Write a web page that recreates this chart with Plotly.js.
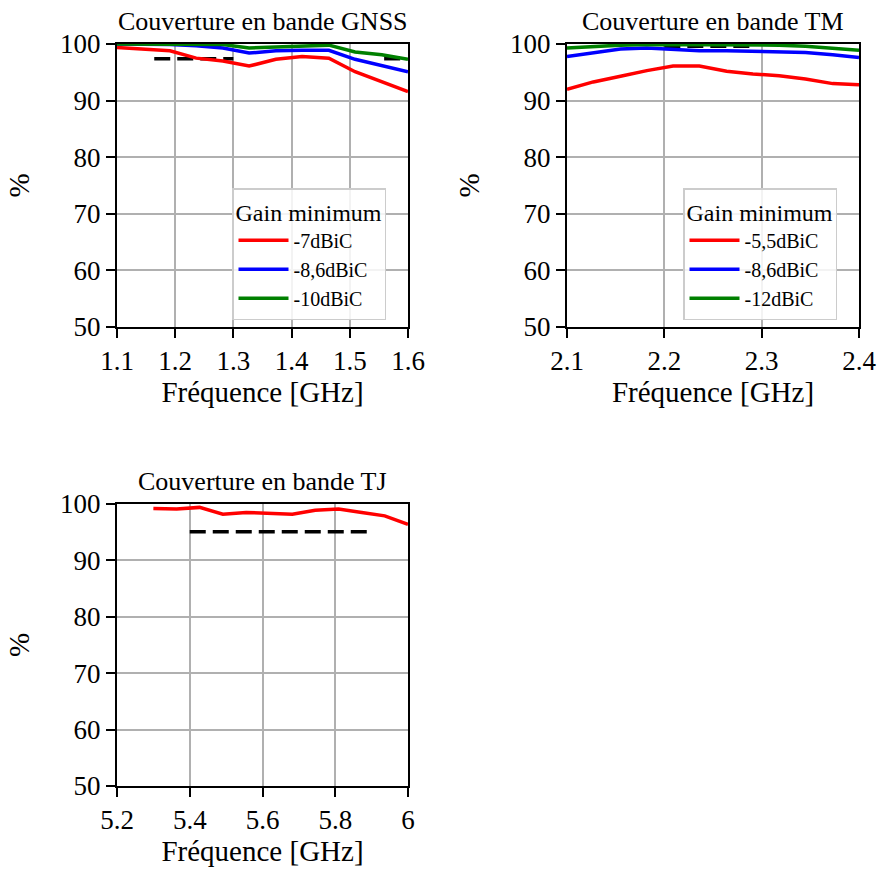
<!DOCTYPE html>
<html>
<head>
<meta charset="utf-8">
<script src="https://cdn.plot.ly/plotly-3.0.1.min.js"></script>
<style>html,body{margin:0;padding:0;background:#fff;}#chart{width:879px;height:869px;}</style>
</head>
<body>
<div id="chart"></div>
<script>
// ---- Data ----
const gnssFreq = [1.1, 1.145, 1.191, 1.236, 1.282, 1.327, 1.373, 1.418, 1.464, 1.509, 1.555, 1.6];
const gnssRed = [99.4, 99.1, 98.8, 97.5, 97.0, 96.1, 97.3, 97.8, 97.5, 95.1, 93.4, 91.6];
const gnssBlue = [100, 100, 99.9, 99.7, 99.3, 98.4, 98.8, 98.9, 98.9, 97.3, 96.2, 95.1];
const gnssGreen = [100, 100, 100, 99.9, 99.9, 99.3, 99.5, 99.6, 99.8, 98.6, 98.1, 97.3];
const gnssLimitX = [1.164, 1.300, null, 1.559, 1.591];
const gnssLimitY = [97.4, 97.4, null, 97.4, 97.4];
const gnssNames = ["-7dBiC", "-8,6dBiC", "-10dBiC"];

const tmFreq = [2.1, 2.127, 2.155, 2.182, 2.209, 2.236, 2.264, 2.291, 2.318, 2.345, 2.373, 2.4];
const tmRed = [92.0, 93.3, 94.3, 95.3, 96.1, 96.1, 95.2, 94.7, 94.4, 93.8, 93.0, 92.8];
const tmBlue = [97.8, 98.5, 99.1, 99.3, 99.1, 98.8, 98.8, 98.7, 98.7, 98.5, 98.1, 97.6];
const tmGreen = [99.3, 99.6, 99.8, 99.9, 99.9, 99.9, 99.9, 99.9, 99.8, 99.6, 99.3, 98.9];
const tmLimitX = [2.2, 2.29];
const tmLimitY = [99.6, 99.6];
const tmNames = ["-5,5dBiC", "-8,6dBiC", "-12dBiC"];

const tjFreq = [5.3, 5.364, 5.427, 5.491, 5.555, 5.618, 5.682, 5.745, 5.809, 5.873, 5.936, 6.0];
const tjRed = [99.2, 99.1, 99.4, 98.2, 98.5, 98.3, 98.2, 98.9, 99.1, 98.5, 97.9, 96.4];
const tjLimitX = [5.4, 5.9];
const tjLimitY = [95.1, 95.1];

const xTicks1 = [1.1, 1.2, 1.3, 1.4, 1.5, 1.6];
const xTickText1 = ["1.1", "1.2", "1.3", "1.4", "1.5", "1.6"];
const xTicks2 = [2.1, 2.2, 2.3, 2.4];
const xTickText2 = ["2.1", "2.2", "2.3", "2.4"];
const xTicks3 = [5.2, 5.4, 5.6, 5.8, 6.0];
const xTickText3 = ["5.2", "5.4", "5.6", "5.8", "6"];
const yTicks = [50, 60, 70, 80, 90, 100];
const yTickText = ["50", "60", "70", "80", "90", "100"];

const titles = ["Couverture en bande GNSS", "Couverture en bande TM", "Couverture en bande TJ"];
const colors = ["#ff0000", "#0000ff", "#008000"];

// ---- Traces ----
const FONT = "Liberation Serif";
const traces = [];
function addSeries(x, ys, names, xa, ya, leg) {
  ys.forEach((y, i) => {
    traces.push({x: x, y: y, type: "scatter", mode: "lines", name: names ? names[i] : "",
      line: {color: colors[i], width: 3.5}, xaxis: xa, yaxis: ya,
      showlegend: !!names, legend: leg});
  });
}
function addLimit(x, y, xa, ya) {
  traces.push({x: x, y: y, type: "scatter", mode: "lines", showlegend: false,
    connectgaps: false, line: {color: "#000", width: 3.5, dash: "16px,7px"}, xaxis: xa, yaxis: ya});
}
addLimit(gnssLimitX, gnssLimitY, "x", "y");
addSeries(gnssFreq, [gnssRed, gnssBlue, gnssGreen], gnssNames, "x", "y", "legend");
addLimit(tmLimitX, tmLimitY, "x2", "y2");
addSeries(tmFreq, [tmRed, tmBlue, tmGreen], tmNames, "x2", "y2", "legend2");
addLimit(tjLimitX, tjLimitY, "x3", "y3");
addSeries(tjFreq, [tjRed], null, "x3", "y3", "legend");

// ---- Layout ----
const W = 879, H = 869;
function px2x(p) { return p / W; }
function px2y(p) { return 1 - p / H; }

function xaxis(dom, ticks, text, anchor, range) {
  return {domain: dom, anchor: anchor, range: range, tickmode: "array", tickvals: ticks, ticktext: text,
    showgrid: true, gridcolor: "#b0b0b0", gridwidth: 2, showline: true, linecolor: "#000", linewidth: 2,
    mirror: true, ticks: "outside", ticklen: 9, tickwidth: 2, tickcolor: "#000", zeroline: false,
    tickfont: {family: FONT, size: 27, color: "#000"},
    title: {text: "Fréquence [GHz]", font: {family: FONT, size: 29, color: "#000"}, standoff: 5},
    automargin: false};
}
function yaxis(dom, anchor) {
  return {domain: dom, anchor: anchor, range: [50, 100], tickmode: "array", tickvals: yTicks, ticktext: yTickText,
    showgrid: true, gridcolor: "#b0b0b0", gridwidth: 2, showline: true, linecolor: "#000", linewidth: 2, mirror: true,
    ticks: "outside", ticklen: 9, tickwidth: 2, tickcolor: "#000", zeroline: false,
    tickfont: {family: FONT, size: 27, color: "#000"},
    title: {text: "%", font: {family: FONT, size: 29, color: "#000"}, standoff: 22},
    automargin: false};
}
const dx1 = [px2x(117), px2x(408)];
const dx2 = [px2x(567), px2x(859)];
const dyTop = [px2y(327), px2y(44)];
const dyBot = [px2y(786), px2y(504)];

const legendCommon = {
  bgcolor: "rgba(255,255,255,0.85)", bordercolor: "#cccccc", borderwidth: 1.5,
  font: {family: FONT, size: 20, color: "#000"},
  title: {text: "Gain minimum", font: {family: FONT, size: 24, color: "#000"}, side: "top"},
  xanchor: "left", yanchor: "top", tracegroupgap: 0, itemwidth: 50
};

const layout = {
  width: W, height: H, margin: {l: 0, r: 0, t: 0, b: 0},
  paper_bgcolor: "#fff", plot_bgcolor: "#fff",
  font: {family: FONT, color: "#000"},
  xaxis: xaxis(dx1, xTicks1, xTickText1, "y", [1.1, 1.6]),
  yaxis: yaxis(dyTop, "x"),
  xaxis2: xaxis(dx2, xTicks2, xTickText2, "y2", [2.1, 2.4]),
  yaxis2: yaxis(dyTop, "x2"),
  xaxis3: xaxis(dx1, xTicks3, xTickText3, "y3", [5.2, 6.0]),
  yaxis3: yaxis(dyBot, "x3"),
  legend: Object.assign({}, legendCommon, {x: px2x(232), y: px2y(188)}),
  legend2: Object.assign({}, legendCommon, {x: px2x(683), y: px2y(188)}),
  annotations: titles.map((t, i) => ({
    text: t, showarrow: false, xref: "paper", yref: "paper",
    x: i === 1 ? (dx2[0] + dx2[1]) / 2 : (dx1[0] + dx1[1]) / 2,
    y: i === 2 ? px2y(498) : px2y(38),
    xanchor: "center", yanchor: "bottom",
    font: {family: FONT, size: 26, color: "#000"}
  }))
};

Plotly.newPlot("chart", traces, layout, {displayModeBar: false, staticPlot: true});
</script>
</body>
</html>
